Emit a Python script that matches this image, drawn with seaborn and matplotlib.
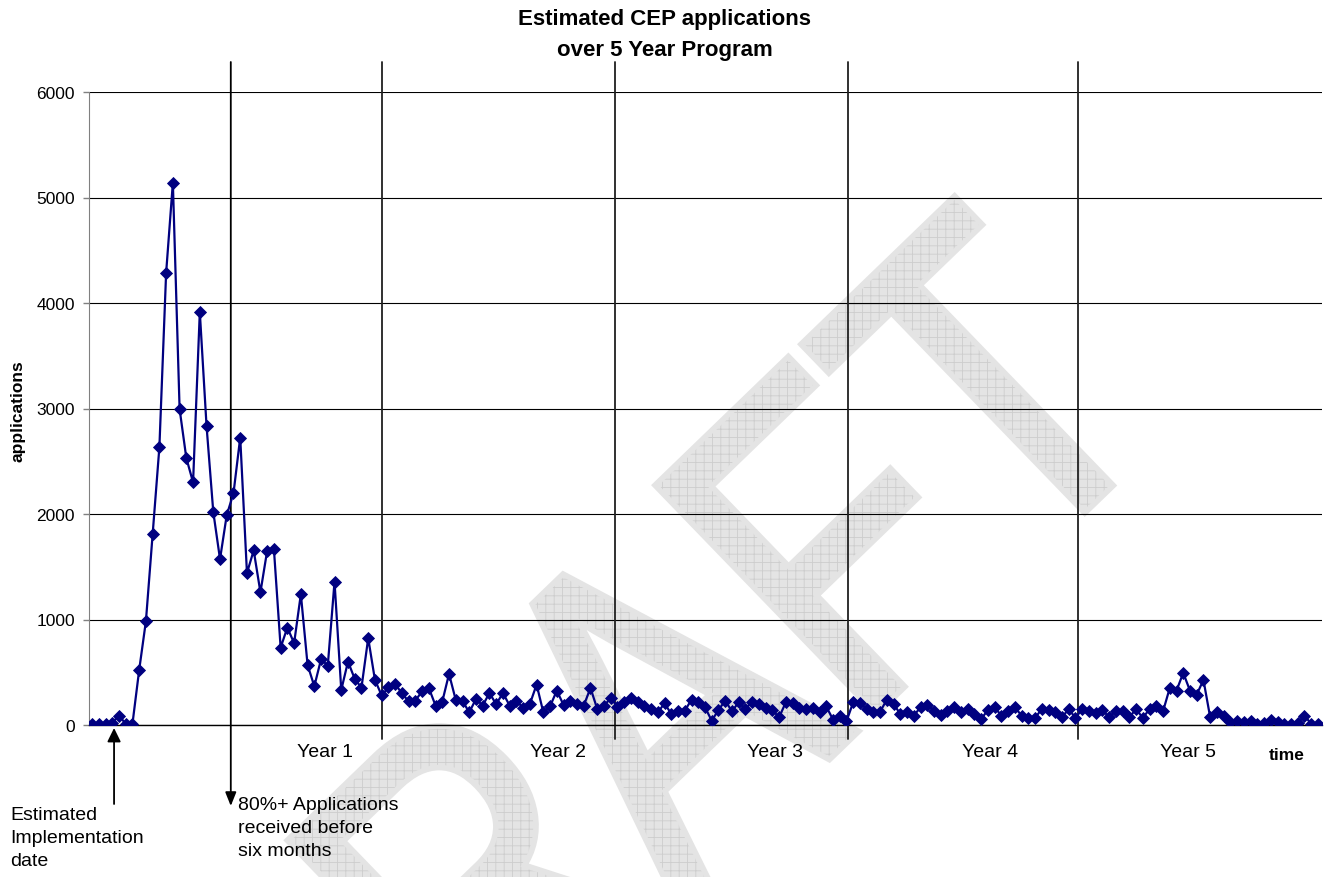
import numpy as np
import pandas as pd
import seaborn as sns
import matplotlib.pyplot as plt
import matplotlib.transforms as mtransforms
import matplotlib.patheffects as pe
from matplotlib.textpath import TextPath
from matplotlib.patches import PathPatch
from matplotlib.font_manager import FontProperties

# Estimated applications per period
applications = [
    10, 10, 10, 20, 90, 10, 10, 522, 985, 1807,
    2634, 4285, 5140, 2995, 2530, 2300, 3915, 2835, 2020, 1572,
    1990, 2196, 2725, 1440, 1655, 1258, 1652, 1668, 734, 924,
    775, 1240, 570, 367, 623, 563, 1358, 332, 601, 437,
    354, 823, 428, 280, 356, 390, 300, 225, 231, 320,
    351, 184, 222, 484, 237, 228, 120, 247, 184, 304,
    196, 304, 184, 225, 165, 199, 383, 120, 177, 326,
    190, 225, 199, 184, 351, 152, 184, 253, 175, 215,
    253, 215, 177, 152, 120, 206, 104, 136, 136, 240,
    215, 168, 41, 142, 231, 130, 215, 152, 222, 199,
    161, 142, 73, 215, 209, 161, 152, 161, 120, 177,
    51, 90, 35, 215, 209, 152, 120, 127, 240, 199,
    104, 127, 89, 168, 190, 136, 95, 136, 168, 120,
    152, 104, 57, 142, 168, 89, 136, 168, 89, 66,
    66, 152, 146, 120, 73, 152, 66, 152, 130, 114,
    142, 73, 136, 130, 73, 152, 66, 152, 184, 130,
    351, 326, 494, 326, 288, 427, 73, 120, 89, 32,
    35, 32, 41, 10, 19, 47, 32, 10, 10, 19,
    89, 10, 10,
]

year_labels = ['Year 1', 'Year 2', 'Year 3', 'Year 4', 'Year 5']
year_label_pos = [34.6, 69.2, 101.4, 133.3, 162.7]
year_dividers = [43.05, 77.6, 112.2, 146.4]
implementation_pos = 3.27
six_month_pos = 20.6

df = pd.DataFrame({'period': np.arange(len(applications)),
                   'applications': applications})

sns.set_style('white')
plt.rcParams['font.family'] = ['Liberation Sans', 'DejaVu Sans']
plt.rcParams['hatch.linewidth'] = 0.6
plt.rcParams['text.color'] = 'black'
plt.rcParams['ytick.labelcolor'] = 'black'

W, H = 1330, 878
fig = plt.figure(figsize=(W / 100, H / 100), dpi=100)

# DRAFT watermark behind everything
tp = TextPath((0, 0), 'DRAFT', size=1, prop=FontProperties(family='Liberation Sans'))
ext = tp.get_extents()
tr = (mtransforms.Affine2D()
      .translate(-(ext.x0 + ext.x1) / 2, -(ext.y0 + ext.y1) / 2)
      .scale(368, 455)
      .rotate_deg(44)
      .translate(636, 152))
wm = PathPatch(tr.transform_path(tp), facecolor='#e4e4e4', edgecolor='#cdcdcd',
               lw=0, hatch='++', transform=mtransforms.IdentityTransform(), zorder=-5)
wm.set_path_effects([pe.withStroke(linewidth=8, foreground='#e4e4e4')])
fig.add_artist(wm)

ax = fig.add_axes([89 / W, 1 - 726 / H, (1322 - 89) / W, (726 - 93) / H])
ax.set_facecolor('none')

sns.lineplot(data=df, x='period', y='applications', ax=ax, color='#000080',
             lw=1.6, marker='D', markersize=6, markeredgecolor='#000080',
             markeredgewidth=0.6, zorder=4)

ax.set_xlim(-0.45, 182.6)
ax.set_ylim(0, 6000)
ax.set_yticks(range(0, 6001, 1000))
ax.set_xticks([])
ax.set_xlabel('')
ax.set_ylabel('')
ax.tick_params(axis='y', labelsize=12.5, length=4, width=1, color='#808080',
               pad=6, left=True, labelcolor='black')
ax.yaxis.grid(True, color='black', lw=0.8)
ax.set_axisbelow(True)
for s in ['top', 'right']:
    ax.spines[s].set_visible(False)
ax.spines['left'].set_color('#808080')
ax.spines['bottom'].set_color('black')
ax.spines['bottom'].set_linewidth(1)

ext_top = (726 - 63) / (726 - 93)
ext_bot = -(740 - 726) / (726 - 93)
for xv in year_dividers:
    ax.axvline(xv, ymin=ext_bot, ymax=ext_top, color='#202020', lw=1.3,
               clip_on=False, zorder=2)

# six month marker line ending in an arrow
ax.annotate('', xy=(six_month_pos, -(807 - 726) / 633),
            xytext=(six_month_pos, ext_top),
            xycoords=('data', 'axes fraction'), textcoords=('data', 'axes fraction'),
            arrowprops=dict(arrowstyle='-|>,head_length=0.55,head_width=0.22',
                            mutation_scale=15, color='black', lw=1.3,
                            shrinkA=0, shrinkB=0),
            annotation_clip=False)

# implementation date arrow
ax.annotate('', xy=(implementation_pos, -(729 - 726) / 633),
            xytext=(implementation_pos, -(805 - 726) / 633),
            xycoords=('data', 'axes fraction'), textcoords=('data', 'axes fraction'),
            arrowprops=dict(arrowstyle='-|>,head_length=0.55,head_width=0.27',
                            mutation_scale=15, color='black', lw=1.3,
                            shrinkA=0, shrinkB=0),
            annotation_clip=False)

for lab, xp in zip(year_labels, year_label_pos):
    ax.text(xp, -(753 - 726) / 633, lab, transform=ax.get_xaxis_transform(),
            ha='center', va='center', fontsize=14)
ax.text(177.4, -(756 - 726) / 633, 'time', transform=ax.get_xaxis_transform(),
        ha='center', va='center', fontsize=12.5, fontweight='bold')

fig.text(18 / W, 1 - 411 / H, 'applications', rotation=90, ha='center',
         va='center', fontsize=12.5, fontweight='bold')
fig.text(0.5, 1 - 35 / H, 'Estimated CEP applications\nover 5 Year Program',
         ha='center', va='center', fontsize=16, fontweight='bold', linespacing=1.6)

fig.text(10 / W, 1 - 807 / H, 'Estimated\nImplementation\ndate',
         ha='left', va='top', fontsize=14, linespacing=1.45)
fig.text(238 / W, 1 - 797 / H, '80%+ Applications\nreceived before\nsix months',
         ha='left', va='top', fontsize=14, linespacing=1.45)

fig.savefig('out.png', dpi=100)
